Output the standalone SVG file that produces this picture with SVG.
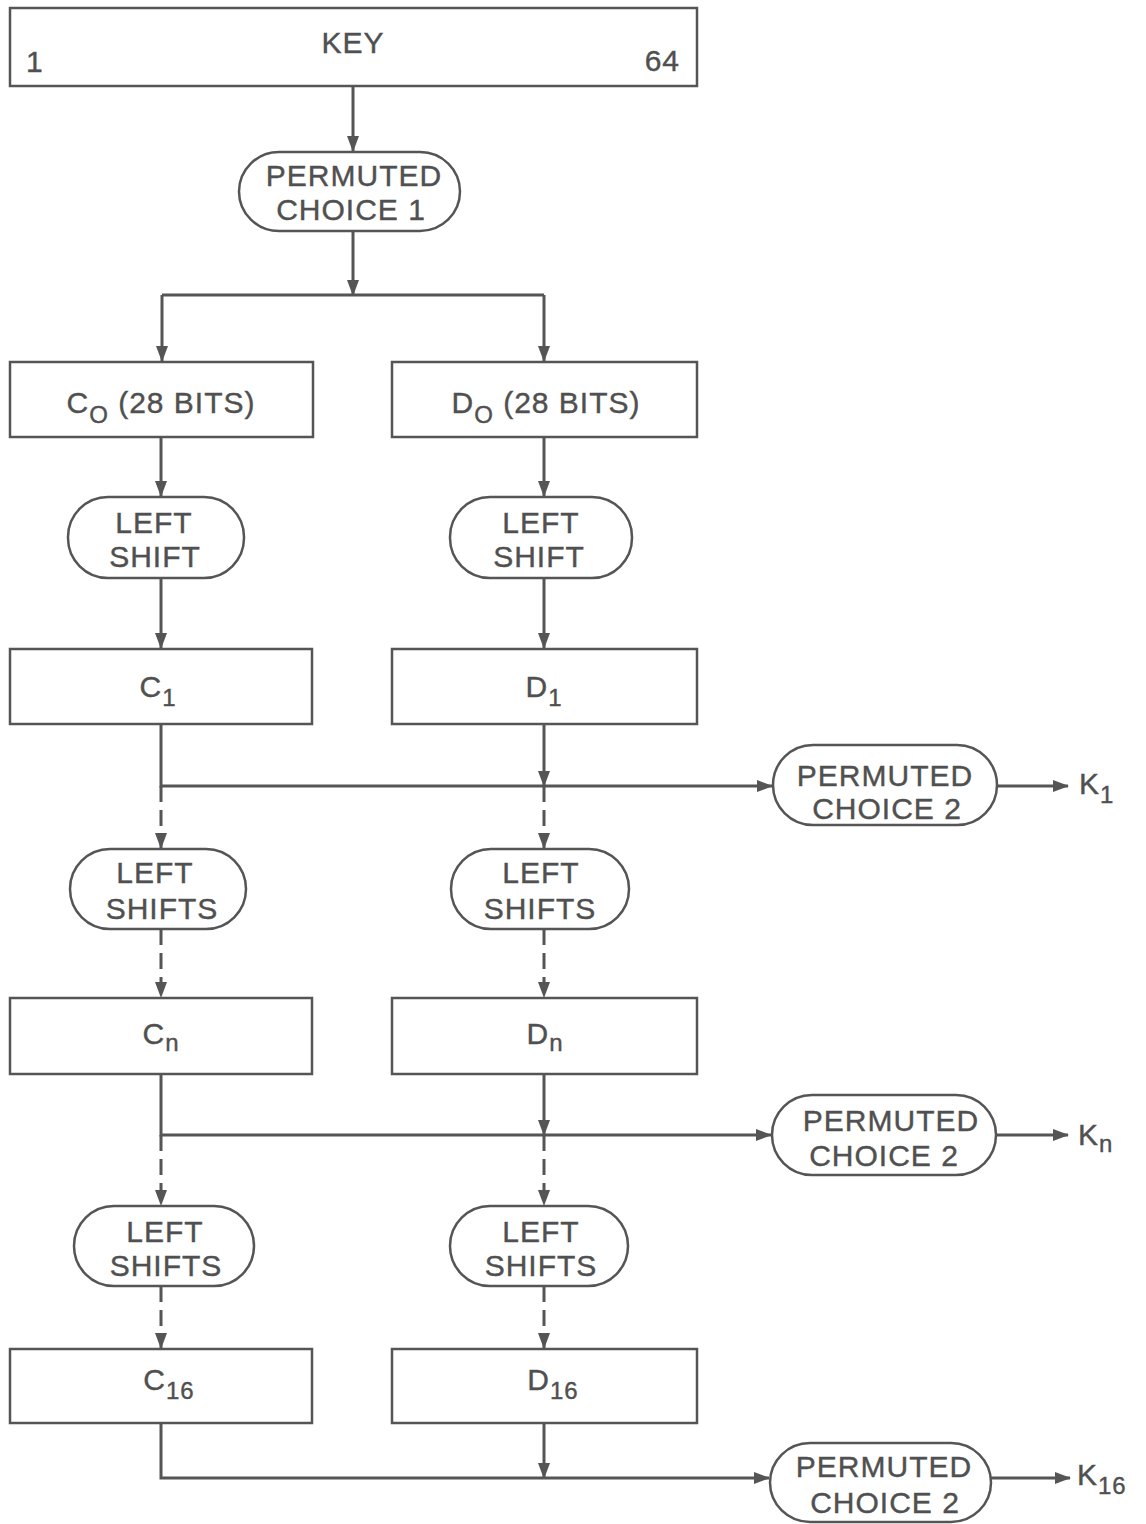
<svg xmlns="http://www.w3.org/2000/svg" width="1146" height="1524" viewBox="0 0 1146 1524">
<style>
.box{fill:#fff;stroke:#555;stroke-width:2.5}
.t{font-family:"Liberation Sans",Arial,sans-serif;font-size:30px;fill:#505050;text-anchor:middle;letter-spacing:1px;stroke:#505050;stroke-width:0.4}
.c{fill:none;stroke:#555;stroke-width:3}
.d{stroke-dasharray:16 8}
.sub{font-size:24px}
</style>
<defs>
<marker id="a" markerUnits="userSpaceOnUse" markerWidth="16" markerHeight="12" refX="15" refY="6" orient="auto">
<path d="M0,0 L16,6 L0,12 Z" fill="#555"/>
</marker>
</defs>
<rect width="1146" height="1524" fill="#fff"/>
<g id="connectors">
<path class="c" d="M353 86 V151" marker-end="url(#a)"/>
<path class="c" d="M353 231 V295" marker-end="url(#a)"/>
<path class="c" d="M162 295 H544"/>
<path class="c" d="M162 295 V361" marker-end="url(#a)"/>
<path class="c" d="M544 295 V361" marker-end="url(#a)"/>
<path class="c" d="M161 437 V496" marker-end="url(#a)"/>
<path class="c" d="M544 437 V496" marker-end="url(#a)"/>
<path class="c" d="M161 578 V648" marker-end="url(#a)"/>
<path class="c" d="M544 578 V648" marker-end="url(#a)"/>
<path class="c" d="M161 724 V786 H772" marker-end="url(#a)"/>
<path class="c" d="M544 724 V786" marker-end="url(#a)"/>
<path class="c d" d="M161 786 V848" marker-end="url(#a)"/>
<path class="c d" d="M544 786 V848" marker-end="url(#a)"/>
<path class="c" d="M997 786 H1068" marker-end="url(#a)"/>
<path class="c d" d="M161 929 V997" marker-end="url(#a)"/>
<path class="c d" d="M544 929 V997" marker-end="url(#a)"/>
<path class="c" d="M161 1074 V1135 H771" marker-end="url(#a)"/>
<path class="c" d="M544 1074 V1135" marker-end="url(#a)"/>
<path class="c d" d="M161 1135 V1205" marker-end="url(#a)"/>
<path class="c d" d="M544 1135 V1205" marker-end="url(#a)"/>
<path class="c" d="M996 1135 H1068" marker-end="url(#a)"/>
<path class="c d" d="M161 1286 V1348" marker-end="url(#a)"/>
<path class="c d" d="M544 1286 V1348" marker-end="url(#a)"/>
<path class="c" d="M161 1423 V1478 H769" marker-end="url(#a)"/>
<path class="c" d="M544 1423 V1478" marker-end="url(#a)"/>
<path class="c" d="M991 1478 H1070" marker-end="url(#a)"/>
</g>
<g id="key">
<rect class="box" x="10" y="8" width="687" height="78"/>
<text class="t" x="353" y="53">KEY</text>
<text class="t" x="26" y="72" style="text-anchor:start">1</text>
<text class="t" x="680" y="71" style="text-anchor:end">64</text>
</g>
<g id="pc1">
<rect class="box" x="239" y="152" width="221" height="79" rx="40" ry="40"/>
<text class="t" x="354" y="186">PERMUTED</text>
<text class="t" x="351" y="220">CHOICE 1</text>
</g>
<g id="c0">
<rect class="box" x="10" y="362" width="303" height="75"/>
<text class="t" x="161" y="413">C<tspan class="sub" dy="10">O</tspan><tspan dy="-10"> (28 BITS)</tspan></text>
</g>
<g id="d0">
<rect class="box" x="392" y="362" width="305" height="75"/>
<text class="t" x="546" y="413">D<tspan class="sub" dy="10">O</tspan><tspan dy="-10"> (28 BITS)</tspan></text>
</g>
<g id="ls1c">
<rect class="box" x="68" y="497" width="176" height="81" rx="40" ry="40"/>
<text class="t" x="154" y="533">LEFT</text>
<text class="t" x="155" y="567">SHIFT</text>
</g>
<g id="ls1d">
<rect class="box" x="450" y="497" width="182" height="81" rx="40" ry="40"/>
<text class="t" x="541" y="533">LEFT</text>
<text class="t" x="539" y="567">SHIFT</text>
</g>
<g id="c1">
<rect class="box" x="10" y="649" width="302" height="75"/>
<text class="t" x="158" y="697">C<tspan class="sub" dy="9">1</tspan></text>
</g>
<g id="d1">
<rect class="box" x="392" y="649" width="305" height="75"/>
<text class="t" x="544" y="697">D<tspan class="sub" dy="9">1</tspan></text>
</g>
<g id="pc2a">
<rect class="box" x="773" y="745" width="224" height="80" rx="40" ry="40"/>
<text class="t" x="885" y="786">PERMUTED</text>
<text class="t" x="887" y="819">CHOICE 2</text>
</g>
<g id="k1">
<text class="t" x="1079" y="794" style="text-anchor:start">K<tspan class="sub" dy="9">1</tspan></text>
</g>
<g id="ls2c">
<rect class="box" x="70" y="849" width="176" height="80" rx="40" ry="40"/>
<text class="t" x="155" y="883">LEFT</text>
<text class="t" x="162" y="919">SHIFTS</text>
</g>
<g id="ls2d">
<rect class="box" x="451" y="849" width="178" height="80" rx="40" ry="40"/>
<text class="t" x="541" y="883">LEFT</text>
<text class="t" x="540" y="919">SHIFTS</text>
</g>
<g id="cn">
<rect class="box" x="10" y="998" width="302" height="76"/>
<text class="t" x="161" y="1044">C<tspan class="sub" dy="7">n</tspan></text>
</g>
<g id="dn">
<rect class="box" x="392" y="998" width="305" height="76"/>
<text class="t" x="545" y="1044">D<tspan class="sub" dy="7">n</tspan></text>
</g>
<g id="pc2n">
<rect class="box" x="772" y="1095" width="224" height="80" rx="40" ry="40"/>
<text class="t" x="891" y="1131">PERMUTED</text>
<text class="t" x="884" y="1166">CHOICE 2</text>
</g>
<g id="kn">
<text class="t" x="1078" y="1145" style="text-anchor:start">K<tspan class="sub" dy="7">n</tspan></text>
</g>
<g id="ls3c">
<rect class="box" x="74" y="1206" width="180" height="80" rx="40" ry="40"/>
<text class="t" x="165" y="1242">LEFT</text>
<text class="t" x="166" y="1276">SHIFTS</text>
</g>
<g id="ls3d">
<rect class="box" x="450" y="1206" width="178" height="80" rx="40" ry="40"/>
<text class="t" x="541" y="1242">LEFT</text>
<text class="t" x="541" y="1276">SHIFTS</text>
</g>
<g id="c16">
<rect class="box" x="10" y="1349" width="302" height="74"/>
<text class="t" x="169" y="1390">C<tspan class="sub" dy="9">16</tspan></text>
</g>
<g id="d16">
<rect class="box" x="392" y="1349" width="305" height="74"/>
<text class="t" x="553" y="1390">D<tspan class="sub" dy="9">16</tspan></text>
</g>
<g id="pc2c">
<rect class="box" x="770" y="1443" width="221" height="79" rx="40" ry="40"/>
<text class="t" x="884" y="1477">PERMUTED</text>
<text class="t" x="885" y="1513">CHOICE 2</text>
</g>
<g id="k16">
<text class="t" x="1077" y="1485" style="text-anchor:start">K<tspan class="sub" dy="9">16</tspan></text>
</g>
</svg>
